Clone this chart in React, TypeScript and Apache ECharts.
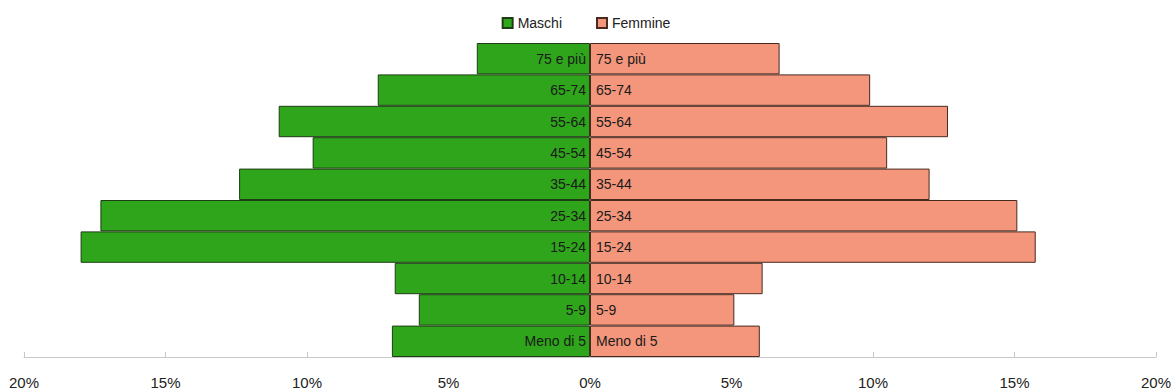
import React, { useEffect, useRef } from "react";
import * as echarts from "echarts";

const categories = ["Meno di 5", "5-9", "10-14", "15-24", "25-34", "35-44", "45-54", "55-64", "65-74", "75 e più"];
const maschi = [7.0, 6.05, 6.9, 18.0, 17.3, 12.4, 9.8, 11.0, 7.5, 4.0];
const femmine = [6.0, 5.1, 6.1, 15.75, 15.1, 12.0, 10.5, 12.65, 9.9, 6.7];
const tickValues = [-20, -15, -10, -5, 0, 5, 10, 15, 20];

const FONT = "'Liberation Sans', Arial, sans-serif";

export default function App() {
  const ref = useRef<HTMLDivElement>(null);
  useEffect(() => {
    if (!ref.current) return;
    const chart = echarts.init(ref.current, undefined, { renderer: "svg" });
    chart.setOption({
      animation: false,
      textStyle: { fontFamily: FONT },
      legend: {
        top: 11,
        left: "center",
        itemWidth: 10,
        itemHeight: 10,
        itemGap: 34,
        icon: "rect",
        textStyle: { fontFamily: FONT, fontSize: 14, color: "#222" },
        data: ["Maschi", "Femmine"],
      },
      grid: {
        left: 24,
        right: 16,
        top: 43,
        bottom: 34,
        containLabel: false,
        outerBoundsMode: "none",
      },
      xAxis: {
        type: "value",
        min: tickValues[0],
        max: tickValues[tickValues.length - 1],
        interval: 5,
        splitLine: { show: false },
        axisLine: { show: true, lineStyle: { color: "#c8c8c8" } },
        axisTick: { show: true, inside: true, length: 5, lineStyle: { color: "#c8c8c8" } },
        axisLabel: {
          fontFamily: FONT,
          fontSize: 15,
          color: "#222",
          margin: 18,
          formatter: (v: number) => Math.abs(v) + "%",
        },
      },
      yAxis: {
        type: "category",
        data: categories,
        show: false,
      },
      series: [
        {
          name: "Maschi",
          type: "bar",
          stack: "tot",
          barCategoryGap: 0,
          data: maschi.map((v) => -v),
          itemStyle: { color: "#2EA51B", borderColor: "#1f3d14", borderWidth: 1 },
          label: {
            show: true,
            position: "insideRight",
            distance: 4,
            fontFamily: FONT,
            fontSize: 14,
            color: "#1a1a1a",
            formatter: (p: any) => p.name,
          },
        },
        {
          name: "Femmine",
          type: "bar",
          stack: "tot",
          barCategoryGap: 0,
          data: femmine,
          itemStyle: { color: "#F4967B", borderColor: "#4a2a20", borderWidth: 1 },
          label: {
            show: true,
            position: "insideLeft",
            distance: 6,
            fontFamily: FONT,
            fontSize: 14,
            color: "#1a1a1a",
            formatter: (p: any) => p.name,
          },
        },
      ],
    });
    return () => chart.dispose();
  }, []);
  return (
    <div
      ref={ref}
      style={{ position: "absolute", left: 0, top: 0, width: 1172, height: 391 }}
    />
  );
}
